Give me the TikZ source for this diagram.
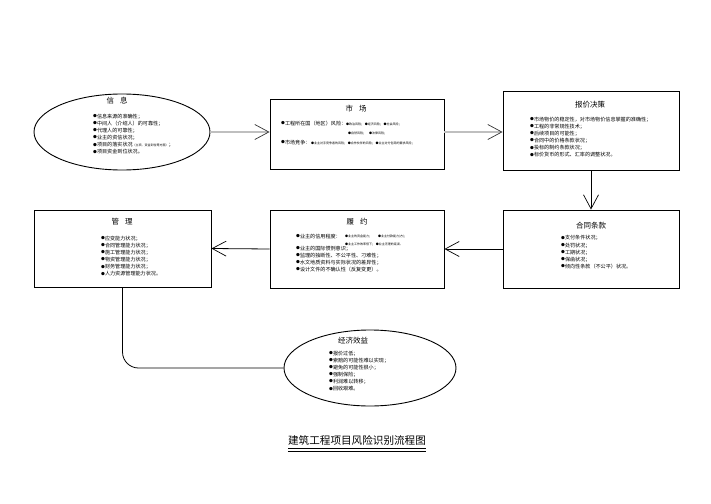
\documentclass[tikz,border=0pt]{standalone}
\usepackage{fontspec}
\setmainfont{Noto Sans CJK SC}
\usetikzlibrary{shapes.geometric,arrows.meta,calc}
\newcommand\bu{\raisebox{0.4pt}{\fontsize{3.8}{4}\selectfont ●}}
\tikzset{
  box/.style={draw=black,line width=0.9pt,inner sep=0pt,rectangle},
  oval/.style={draw=black,line width=0.9pt,inner sep=0pt,ellipse},
  ttl/.style={inner sep=0pt,font=\fontsize{7.5}{9}\selectfont},
  body/.style={inner sep=0pt,anchor=north west,align=left,font=\fontsize{5.1}{7.1}\selectfont},
  tiny/.style={inner sep=0pt,anchor=west,align=left,font=\fontsize{3}{4}\selectfont},
  grayarrow/.style={draw=black!25,line width=1.6pt,-{Straight Barb[length=14pt,width=15pt,line width=0.7pt,color=black!80]}},
  blackarrow/.style={draw=black,line width=0.8pt,-{Straight Barb[length=14pt,width=15pt,line width=0.7pt]}},
}
\begin{document}
\begin{tikzpicture}[x=1pt,y=-1pt]
\useasboundingbox (0,0) rectangle (711,503);

% shapes
\node[oval,minimum width=176pt,minimum height=76pt] (info) at (122,132) {};
\node[box,minimum width=174pt,minimum height=70pt] (market) at (357,134) {};
\node[box,minimum width=176pt,minimum height=79pt] (quote) at (591,130.5) {};
\node[box,minimum width=176pt,minimum height=78pt] (contract) at (591,249) {};
\node[box,minimum width=174pt,minimum height=78pt] (perform) at (357,249) {};
\node[box,minimum width=177pt,minimum height=77pt] (manage) at (122.5,248.5) {};
\node[oval,minimum width=172pt,minimum height=76pt] (benefit) at (370,368) {};

% 信息
\node[ttl] (infot) at (117,101) {信\hspace{0.8em}息};
\node[body] (infob) at (93,113.5) {\bu 信息来源的准确性；\\\bu 中间人（介绍人）的可靠性；\\\bu 代理人的可靠性；\\\bu 业主的资信状况；\\\bu 项目的落实状况{\fontsize{3}{4}\selectfont（立项、资金到位等方面）}；\\\bu 项目资金到位状况。};

% 市场
\node[ttl] (markett) at (356,109) {市\hspace{0.8em}场};
\node[body] (marketa) at (281,120.5) {\bu 工程所在国（地区）风险：};
\node[tiny] (marketa1) at (346,124) {●政治风险；\ ●经济风险；\ ●社会风险；};
\node[tiny] (marketa2) at (348,133) {●自然风险；\quad ●法律风险；};
\node[body] (marketb) at (281,139.5) {\bu 市场竞争：};
\node[tiny] (marketb1) at (311,143) {●业主对手竞争者的风险；\ ●合作伙伴的风险；\ ●业主对分包商的要求风险；};

% 报价决策
\node[ttl] (quotet) at (590,105) {报价决策};
\node[body] (quoteb) at (530,116.5) {\bu 市场物价的稳定性，对市场物价信息掌握的准确性；\\\bu 工程的非常规性技术；\\\bu 后续项目的可能性；\\\bu 合同中的价格条款状况；\\\bu 投标的制约条款状况；\\\bu 标价货币的形式、汇率的调整状况。};

% 合同条款
\node[ttl] (contractt) at (591,226) {合同条款};
\node[body] (contractb) at (561,235.5) {\bu 支付条件状况；\\\bu 处罚状况；\\\bu 工期状况；\\\bu 保函状况；\\\bu 倾向性条款（不公平）状况。};

% 履约
\node[ttl] (performt) at (357,222) {履\hspace{0.8em}约};
\node[body] (performa) at (296,233.5) {\bu 业主的信用程度：};
\node[tiny] (performa1) at (345,237) {●业主的资金能力；\qquad ●业主付款能力(方)；};
\node[tiny] (performa2) at (345,244) {●业主工作效率低下；\ ●业主无理的延误。};
\node[body] (performb) at (296,245.5) {\bu 业主的国际惯例意识；\\\bu 监理的独断性、不公平性、刁难性；\\\bu 水文地质资料与实际状况的差异性；\\\bu 设计文件的不确认性（反复变更）。};

% 管理
\node[ttl] (managet) at (122,222) {管\hspace{0.8em}理};
\node[body] (manageb) at (101,235.5) {\bu 应变能力状况；\\\bu 合同管理能力状况；\\\bu 施工管理能力状况；\\\bu 物资管理能力状况；\\\bu 财务管理能力状况；\\\bu 人力资源管理能力状况。};

% 经济效益
\node[ttl] (benefitt) at (353,341) {经济效益};
\node[body] (benefitb) at (329,350.5) {\bu 报价过低；\\\bu 索赔的可能性难以实现；\\\bu 避免的可能性很小；\\\bu 强制保险；\\\bu 利润难以转移；\\\bu 回收艰难。};

% connectors
\draw[grayarrow] (info.east) -- (info.east -| market.west);
\draw[grayarrow] (market.east |- info.east) -- (info.east -| quote.west);
\draw[blackarrow] (quote.south) -- (contract.north);
\draw[blackarrow] (contract.west) -- (perform.east);
\draw[blackarrow] (perform.west) -- (manage.east);
\draw[black,line width=0.8pt,rounded corners=16pt] (manage.south) |- (benefit.west);

% title
\node[inner sep=0pt,font=\fontsize{10.6}{12}\selectfont] (title) at (357,440) {建筑工程项目风险识别流程图};
\draw[line width=0.8pt] ([yshift=-3pt]title.south west) -- ([yshift=-3pt]title.south east);
\draw[line width=0.8pt] ([yshift=-6pt]title.south west) -- ([yshift=-6pt]title.south east);
\end{tikzpicture}
\end{document}
